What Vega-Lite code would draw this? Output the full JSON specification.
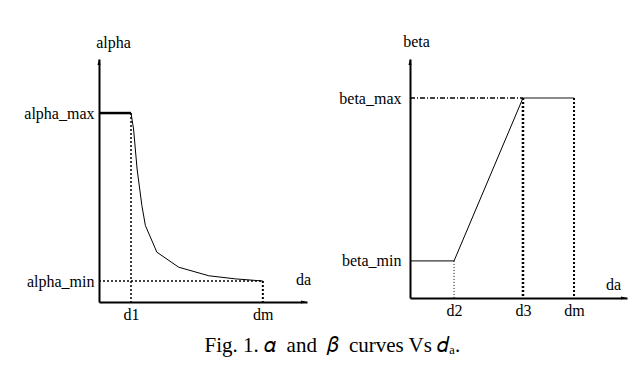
{
  "$schema": "https://vega.github.io/schema/vega-lite/v6.json",
  "padding": {"left": 23, "top": 33, "right": 5, "bottom": 5},
  "background": "white",
  "title": {"text": "Fig. 1. 𝛼\u00a0 and \u00a0𝛽\u00a0 curves Vs 𝑑ₐ.", "orient": "bottom", "anchor": "middle", "font": "Liberation Serif", "fontSize": 21, "fontWeight": "normal", "color": "black", "offset": 13, "dx": 7},
  "config": {
    "view": {"stroke": null},
    "axis": {"grid": false, "ticks": false, "domainColor": "black", "domainWidth": 2, "labelFont": "Liberation Serif", "labelFontSize": 16, "labelColor": "black", "titleFont": "Liberation Serif", "titleFontSize": 16, "titleFontWeight": "normal", "titleColor": "black", "titleAngle": 0, "titleAlign": "center", "titleBaseline": "middle", "labelFlush": false, "labelOverlap": false}
  },
  "spacing": 27,
  "hconcat": [
    {
      "width": 208,
      "height": 243,
      "encoding": {
        "x": {"field": "x", "type": "quantitative", "scale": {"domain": [0, 6.5], "nice": false}, "axis": {"values": [1, 5.12], "labelExpr": "datum.value < 2 ? 'd1' : 'dm'", "labelPadding": 4, "title": "da", "titleX": 204, "titleY": -23}},
        "y": {"field": "y", "type": "quantitative", "scale": {"domain": [0, 1.25], "nice": false}, "axis": {"values": [0.108, 0.972], "labelExpr": "datum.value > 0.5 ? 'alpha_max' : 'alpha_min'", "labelPadding": 5, "title": "alpha", "titleX": 14, "titleY": -17}}
      },
      "layer": [
        {
          "data": {"values": [
            {"x": 1.0, "y": 0.972}, {"x": 1.08, "y": 0.89}, {"x": 1.19, "y": 0.684}, {"x": 1.34, "y": 0.496}, {"x": 1.45, "y": 0.393},
            {"x": 1.81, "y": 0.256}, {"x": 2.49, "y": 0.179}, {"x": 3.43, "y": 0.135}, {"x": 4.26, "y": 0.119}, {"x": 5.12, "y": 0.108}
          ]},
          "mark": {"type": "line", "color": "black", "strokeWidth": 1}
        },
        {
          "data": {"values": [{"x": 0, "y": 0.972, "x2": 1.0, "y2": 0.972}]},
          "mark": {"type": "rule", "color": "black", "strokeWidth": 2.5},
          "encoding": {"x2": {"field": "x2"}, "y2": {"field": "y2"}}
        },
        {
          "data": {"values": [
            {"x": 1.0, "y": 0.972, "x2": 1.0, "y2": 0},
            {"x": 0, "y": 0.108, "x2": 5.12, "y2": 0.108}
          ]},
          "mark": {"type": "rule", "color": "black", "strokeWidth": 1.5, "strokeDash": [2, 2]},
          "encoding": {"x2": {"field": "x2"}, "y2": {"field": "y2"}}
        },
        {
          "data": {"values": [{"x": 5.12, "y": 0.108, "x2": 5.12, "y2": 0}]},
          "mark": {"type": "rule", "color": "black", "strokeWidth": 2, "strokeDash": [2, 2]},
          "encoding": {"x2": {"field": "x2"}, "y2": {"field": "y2"}}
        },
        {
          "data": {"values": [{"x": 6.5, "y": 0}]},
          "mark": {"type": "point", "filled": true, "color": "black", "opacity": 1, "size": 144, "shape": "M0,0L-1,-0.25L-1,0.25Z"}
        },
        {
          "data": {"values": [{"x": 0, "y": 1.25}]},
          "mark": {"type": "point", "filled": true, "color": "black", "opacity": 1, "size": 144, "shape": "M0,0L-0.25,1L0.25,1Z"}
        }
      ]
    },
    {
      "width": 217,
      "height": 239,
      "encoding": {
        "x": {"field": "x", "type": "quantitative", "scale": {"domain": [0, 6.8], "nice": false}, "axis": {"values": [1.38, 3.54, 5.14], "labelExpr": "datum.value < 2 ? 'd2' : datum.value < 4 ? 'd3' : 'dm'", "labelPadding": 4, "title": "da", "titleX": 203, "titleY": -14}},
        "y": {"field": "y", "type": "quantitative", "scale": {"domain": [0, 1.25], "nice": false}, "axis": {"values": [0.194, 1.046], "labelExpr": "datum.value > 0.5 ? 'beta_max' : 'beta_min'", "labelPadding": 9, "title": "beta", "titleX": 6, "titleY": -18}}
      },
      "layer": [
        {
          "data": {"values": [{"x": 0, "y": 0.194}, {"x": 1.38, "y": 0.194}, {"x": 3.54, "y": 1.046}]},
          "mark": {"type": "line", "color": "black", "strokeWidth": 1}
        },
        {
          "data": {"values": [{"x": 3.54, "y": 1.046, "x2": 5.14, "y2": 1.046}]},
          "mark": {"type": "rule", "color": "#8a8a8a", "strokeWidth": 2},
          "encoding": {"x2": {"field": "x2"}, "y2": {"field": "y2"}}
        },
        {
          "data": {"values": [{"x": 0, "y": 1.046, "x2": 3.54, "y2": 1.046}]},
          "mark": {"type": "rule", "color": "black", "strokeWidth": 1.5, "strokeDash": [5, 2, 1, 2]},
          "encoding": {"x2": {"field": "x2"}, "y2": {"field": "y2"}}
        },
        {
          "data": {"values": [{"x": 1.38, "y": 0.194, "x2": 1.38, "y2": 0}]},
          "mark": {"type": "rule", "color": "black", "strokeWidth": 1, "strokeDash": [1, 2]},
          "encoding": {"x2": {"field": "x2"}, "y2": {"field": "y2"}}
        },
        {
          "data": {"values": [{"x": 3.54, "y": 1.046, "x2": 3.54, "y2": 0}]},
          "mark": {"type": "rule", "color": "black", "strokeWidth": 2.5, "strokeDash": [2, 2]},
          "encoding": {"x2": {"field": "x2"}, "y2": {"field": "y2"}}
        },
        {
          "data": {"values": [{"x": 5.14, "y": 1.046, "x2": 5.14, "y2": 0}]},
          "mark": {"type": "rule", "color": "black", "strokeWidth": 2, "strokeDash": [2, 2]},
          "encoding": {"x2": {"field": "x2"}, "y2": {"field": "y2"}}
        },
        {
          "data": {"values": [{"x": 6.8, "y": 0}]},
          "mark": {"type": "point", "filled": true, "color": "black", "opacity": 1, "size": 144, "shape": "M0,0L-1,-0.25L-1,0.25Z"}
        },
        {
          "data": {"values": [{"x": 0, "y": 1.25}]},
          "mark": {"type": "point", "filled": true, "color": "black", "opacity": 1, "size": 144, "shape": "M0,0L-0.25,1L0.25,1Z"}
        }
      ]
    }
  ]
}
